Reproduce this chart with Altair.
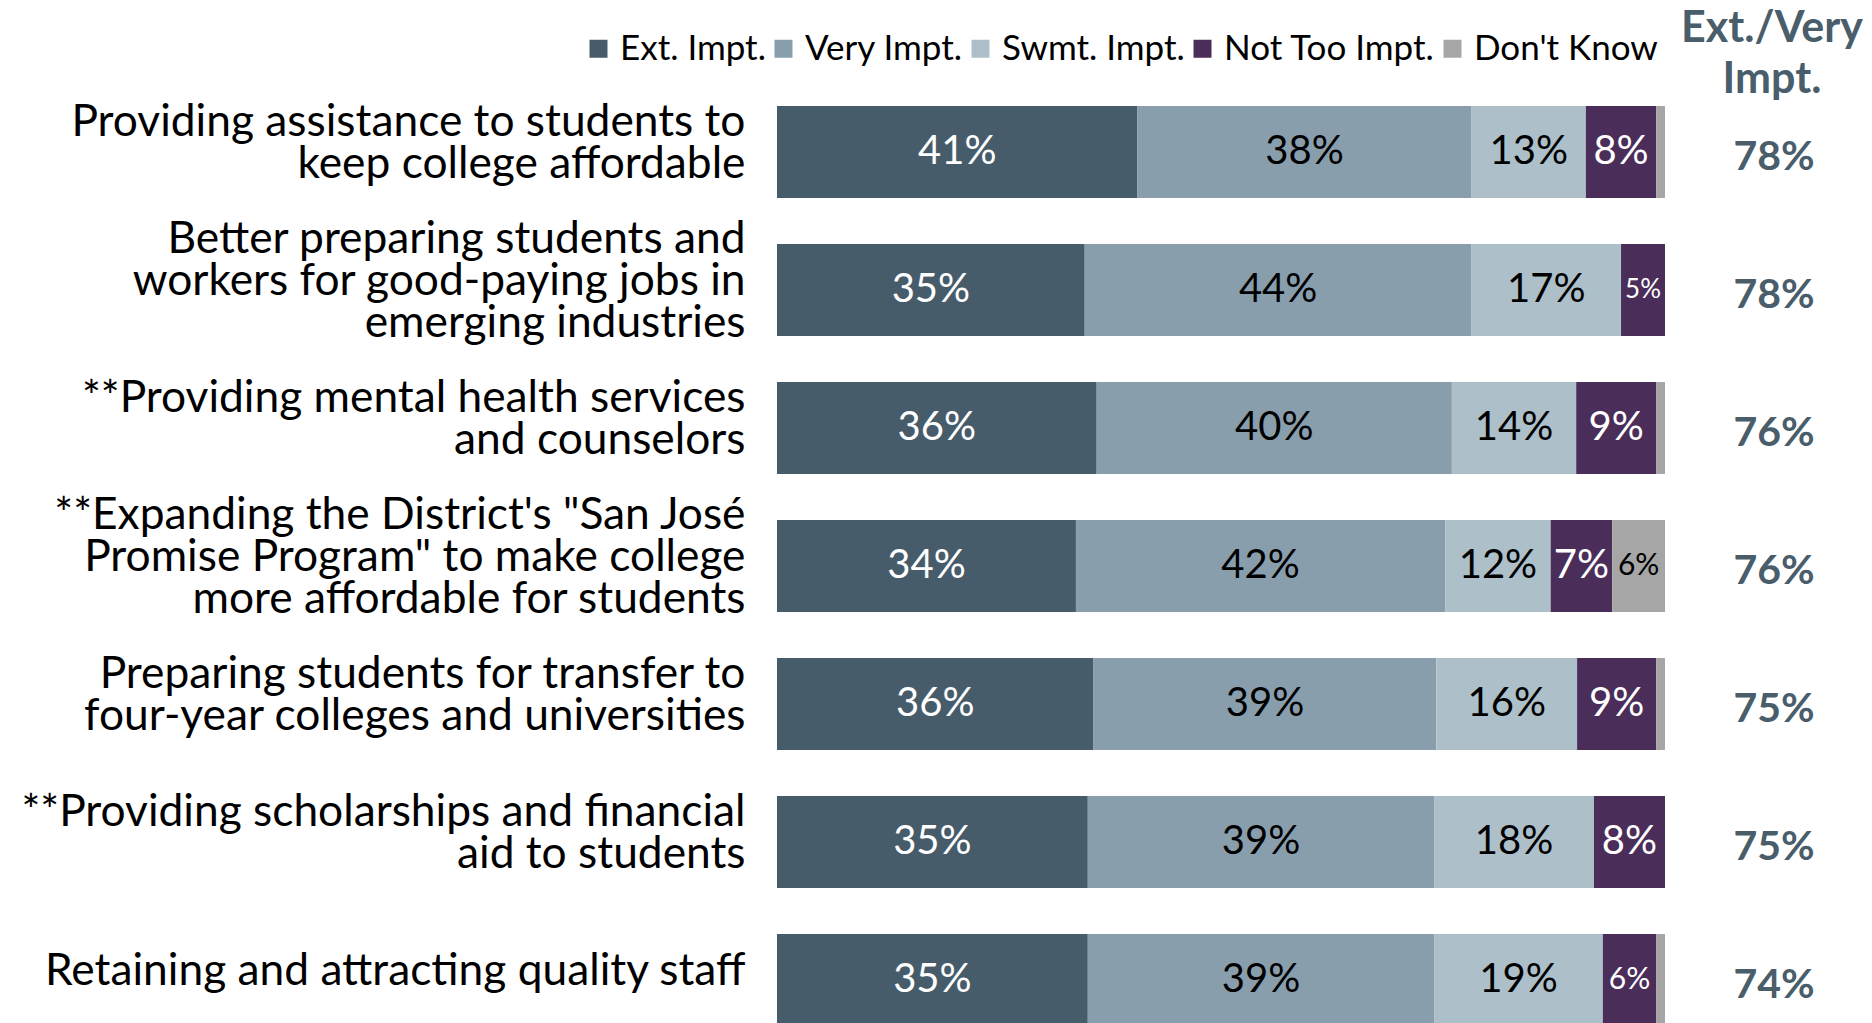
import altair as alt
import pandas as pd

categories = [
    "Providing assistance to students to\nkeep college affordable",
    "Better preparing students and\nworkers for good-paying jobs in\nemerging industries",
    "**Providing mental health services\nand counselors",
    "**Expanding the District's \"San José\nPromise Program\" to make college\nmore affordable for students",
    "Preparing students for transfer to\nfour-year colleges and universities",
    "**Providing scholarships and financial\naid to students",
    "Retaining and attracting quality staff",
]
segments = ["Ext. Impt.", "Very Impt.", "Swmt. Impt.", "Not Too Impt.", "Don't Know"]
ext = [41, 35, 36, 34, 36, 35, 35]
very = [38, 44, 40, 42, 39, 39, 39]
swmt = [13, 17, 14, 12, 16, 18, 19]
not_too = [8, 5, 9, 7, 9, 8, 6]
dont_know = [1, 0, 1, 6, 1, 0, 1]
ext_very = [78, 78, 76, 76, 75, 75, 74]
colors = ["#475c6b", "#889eac", "#adbfc9", "#4b2d5a", "#a6a6a6"]
text_colors = ["white", "black", "black", "white", "black"]

series = [ext, very, swmt, not_too, dont_know]
rows = []
for i, cat in enumerate(categories):
    for j, seg in enumerate(segments):
        rows.append({"category": cat, "segment": seg, "order": j,
                     "value": series[j][i], "tcolor": text_colors[j]})
df = pd.DataFrame(rows)
ev_df = pd.DataFrame({"category": categories, "ev": ext_very})
hdr_df = pd.DataFrame({"t": ["Ext./Very\nImpt."]})

FONT = "Lato"
HEAD_COLOR = "#495d6b"

label_offset = {
    "condition": [
        {"test": "length(split(datum.value, '\\n')) == 3", "value": -50},
        {"test": "length(split(datum.value, '\\n')) == 2", "value": -29},
    ],
    "value": -8,
}

y_enc = alt.Y(
    "category:N", sort=categories,
    scale=alt.Scale(domain=categories, paddingInner=0.3333, paddingOuter=0.1667),
    axis=alt.Axis(title=None, domain=False, ticks=False,
                  labelExpr="split(datum.label, '\\n')",
                  labelFont=FONT, labelFontSize=44.3, labelLineHeight=42,
                  labelPadding=32, labelLimit=1000, labelColor="black",
                  labelOffset=label_offset),
)

base = (
    alt.Chart(df)
    .transform_joinaggregate(total="sum(value)", groupby=["category"])
    .transform_window(cum="sum(value)", groupby=["category"],
                      sort=[alt.SortField("order")], frame=[None, 0])
    .transform_calculate(
        x0="(datum.cum - datum.value) / datum.total",
        x1="datum.cum / datum.total",
        xm="(datum.cum - datum.value / 2) / datum.total",
        lbl="datum.value + '%'",
        fsize="datum.value <= 5 ? 26 : (datum.value <= 6 ? 30 : 40)",
    )
)

bars = base.transform_filter("datum.value > 0").mark_bar().encode(
    y=y_enc,
    x=alt.X("x0:Q", scale=alt.Scale(domain=[0, 1]), axis=None),
    x2="x1:Q",
    color=alt.Color(
        "segment:N",
        scale=alt.Scale(domain=segments, range=colors),
        legend=alt.Legend(
            orient="none", legendX=-196, legendY=-52, direction="horizontal",
            columns=5, title=None, symbolType="square", symbolSize=324,
            symbolStrokeWidth=0, labelFont=FONT, labelFontSize=35,
            labelColor="black", columnPadding=0, labelOffset=4,
            labelLimit=400,
        ),
    ),
)

labels = base.transform_filter("datum.value >= 2").mark_text(font=FONT).encode(
    y=y_enc,
    x=alt.X("xm:Q", scale=alt.Scale(domain=[0, 1]), axis=None),
    text="lbl:N",
    fill=alt.Fill("tcolor:N", scale=None),
    size=alt.Size("fsize:Q", scale=None),
)

right = alt.Chart(ev_df).transform_calculate(
    evl="datum.ev + '%'"
).mark_text(font=FONT, fontWeight="bold", fontSize=41, color=HEAD_COLOR, dy=6).encode(
    y=y_enc,
    x=alt.value(997),
    text="evl:N",
)

header = alt.Chart(hdr_df).mark_text(
    font=FONT, fontWeight="bold", fontSize=43, color=HEAD_COLOR,
    lineBreak="\n", lineHeight=51, baseline="alphabetic",
).encode(
    x=alt.value(995),
    y=alt.value(-41),
    text="t:N",
)

chart = (
    alt.layer(bars, labels, right, header)
    .properties(width=888, height=966, autosize="none",
                padding={"left": 769, "top": 75, "right": 199, "bottom": 10})
    .configure_view(stroke=None)
)

chart.save("out.html", embed_options={"renderer": "svg", "actions": False})
